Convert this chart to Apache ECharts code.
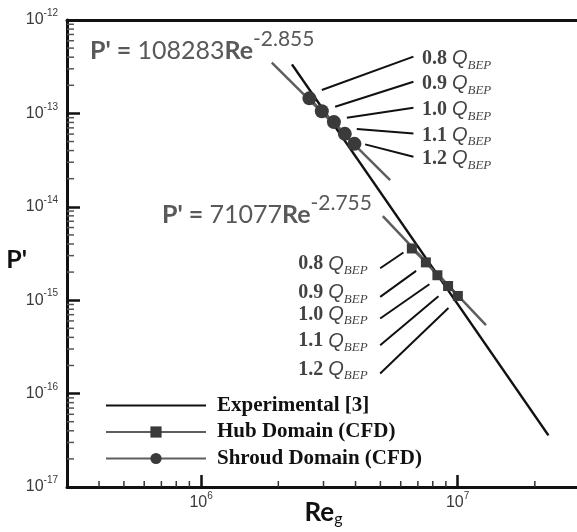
<!DOCTYPE html>
<html>
<head>
<meta charset="utf-8">
<script src="https://cdn.jsdelivr.net/npm/echarts@6/dist/echarts.min.js"></script>
<style>
html, body { margin: 0; padding: 0; background: #fff; }
#chart { width: 577px; height: 532px; }
</style>
</head>
<body>
<div id="chart"></div>
<script>
// axis ranges
var xMin = 3e5, xMax = 3e7;
var yMin = 1e-17, yMax = 1e-12;

// experimental correlation (straight line on log-log)
var expRe = [2.26e6, 2.26e7];
var expP = [3.35e-13, 3.57e-17];

// fitted lines
var hubFitRe = [5.11e6, 1.29e7];
var hubFitP = [7.94e-15, 5.40e-16];
var shroudFitRe = [1.886e6, 5.456e6];
var shroudFitP = [3.49e-13, 1.93e-14];

// CFD points, 0.8 .. 1.2 Q_BEP
var flowLabels = ['0.8', '0.9', '1.0', '1.1', '1.2'];
var hubRe = [6.63e6, 7.52e6, 8.34e6, 9.18e6, 1.002e7];
var hubP = [3.58e-15, 2.54e-15, 1.85e-15, 1.42e-15, 1.11e-15];
var shroudRe = [2.644e6, 2.955e6, 3.294e6, 3.633e6, 3.96e6];
var shroudP = [1.449e-13, 1.054e-13, 8.07e-14, 6.04e-14, 4.72e-14];

// leader lines for the Q labels: [Re1, P1, Re2, P2]
var shroudLeaders = [
    [2.955e6, 1.778e-13, 6.725e6, 4.05e-13],
    [3.33e6, 1.178e-13, 6.725e6, 2.18e-13],
    [3.70e6, 8.97e-14, 6.725e6, 1.148e-13],
    [4.046e6, 6.79e-14, 6.725e6, 6.11e-14],
    [4.36e6, 4.66e-14, 6.725e6, 3.43e-14]
];
var hubLeaders = [
    [4.99e6, 2.20e-15, 6.15e6, 3.24e-15],
    [4.99e6, 1.084e-15, 6.89e6, 2.06e-15],
    [4.99e6, 6.37e-16, 7.76e6, 1.48e-15],
    [4.99e6, 3.30e-16, 8.42e6, 1.10e-15],
    [4.99e6, 1.64e-16, 9.21e6, 8.26e-16]
];

var legendNames = ['Experimental [3]', 'Hub Domain (CFD)', 'Shroud Domain (CFD)'];

function zip(a, b) {
    var out = [];
    for (var i = 0; i < a.length; i++) {
        out.push([a[i], b[i]]);
    }
    return out;
}

// minor tick values 2..9 x 10^k inside a range
function minorTicks(lo, hi) {
    var out = [];
    var k0 = Math.floor(Math.log10(lo)), k1 = Math.ceil(Math.log10(hi));
    for (var k = k0; k <= k1; k++) {
        for (var m = 2; m <= 9; m++) {
            var v = m * Math.pow(10, k);
            if (v > lo * 1.0001 && v < hi * 0.9999) out.push(v);
        }
    }
    return out;
}

function powLabel(value) {
    var e = Math.log10(value);
    if (Math.abs(e - Math.round(e)) > 1e-6) return '';
    return '{b|10}{s|' + Math.round(e) + '}';
}

var tickRich = {
    b: { fontFamily: 'Liberation Sans', fontSize: 16, color: '#3a3a3a' },
    s: { fontFamily: 'Liberation Sans', fontSize: 10, color: '#3a3a3a', padding: [0, 0, 13, 0] }
};

var qRich = {
    n: { fontFamily: 'Liberation Serif', fontWeight: 'bold', fontSize: 20, color: '#111' },
    q: { fontFamily: 'Liberation Sans', fontStyle: 'italic', fontSize: 20, color: '#111' },
    s: { fontFamily: 'Liberation Sans Narrow', fontStyle: 'italic', fontSize: 13, color: '#111', padding: [13, 0, 0, 0] }
};

function qLabel(i) {
    return '{n|' + flowLabels[i] + ' }{q|Q}{s|BEP}';
}

var formulaRich = {
    b: { fontFamily: 'Lato', fontWeight: 'bold', fontSize: 25, fill: '#595959' },
    r: { fontFamily: 'Lato', fontSize: 25, fill: '#595959' },
    e: { fontFamily: 'Lato', fontSize: 21, fill: '#595959', padding: [0, 0, 24, 0] }
};

var chart = echarts.init(document.getElementById('chart'));

var option = {
    animation: false,
    backgroundColor: '#fff',
    grid: { left: 67, right: -3, top: 20, bottom: 45, outerBoundsMode: 'none', containLabel: false },
    legend: {
        data: [
            { name: legendNames[0], itemStyle: { opacity: 0 } },
            { name: legendNames[1] },
            { name: legendNames[2] }
        ],
        orient: 'vertical',
        left: 100,
        top: 390,
        itemWidth: 100,
        itemHeight: 14,
        itemGap: 5.5,
        textStyle: {
            fontFamily: 'Liberation Serif', fontWeight: 'bold', fontSize: 21, color: '#111',
            padding: [0, 0, 0, 6]
        }
    },
    xAxis: [{
        type: 'log', logBase: 10, min: xMin, max: xMax,
        name: '{b|Re}{s|g}',
        nameLocation: 'middle',
        nameGap: 12,
        nameMoveOverlap: false,
        nameTextStyle: {
            rich: {
                b: { fontFamily: 'Lato', fontWeight: 'bold', fontSize: 26, color: '#111' },
                s: { fontFamily: 'Lato', fontSize: 16, color: '#111', padding: [12, 0, 0, 0] }
            }
        },
        axisLine: { lineStyle: { color: '#111', width: 3 } },
        axisTick: { show: true, inside: true, length: 12, lineStyle: { color: '#111', width: 2.5 } },
        axisLabel: { formatter: powLabel, rich: tickRich, margin: 4, showMinLabel: false, showMaxLabel: false },
        splitLine: { show: false }
    }, {
        type: 'log', logBase: 10, min: xMin, max: xMax, position: 'top',
        axisLine: { lineStyle: { color: '#111', width: 3 } },
        axisTick: { show: false }, axisLabel: { show: false }, splitLine: { show: false }
    }],
    yAxis: {
        type: 'log', logBase: 10, min: yMin, max: yMax,
        name: "{p|P'}",
        nameLocation: 'middle',
        nameRotate: 0,
        nameGap: 40,
        nameMoveOverlap: false,
        nameTextStyle: {
            rich: { p: { fontFamily: 'Lato', fontWeight: 'bold', fontSize: 25, color: '#111', padding: [12, 0, 0, 0] } }
        },
        axisLine: { lineStyle: { color: '#111', width: 3 } },
        axisTick: { show: true, inside: true, length: 13, lineStyle: { color: '#111', width: 2.5 } },
        axisLabel: { formatter: powLabel, rich: tickRich, margin: 9 },
        splitLine: { show: false }
    },
    series: [{
        name: 'xMinor', type: 'custom', silent: true, z: 5, clip: false,
        data: minorTicks(xMin, xMax).map(function (v) { return [v, yMin]; }),
        renderItem: function (params, api) {
            var p = api.coord([api.value(0), yMin]);
            return { type: 'line', shape: { x1: p[0], y1: p[1], x2: p[0], y2: p[1] - 6 },
                style: { stroke: '#333', lineWidth: 1.5 } };
        }
    }, {
        name: 'yMinor', type: 'custom', silent: true, z: 5, clip: false,
        data: minorTicks(yMin, yMax).map(function (v) { return [xMin, v]; }),
        renderItem: function (params, api) {
            var p = api.coord([xMin, api.value(1)]);
            return { type: 'line', shape: { x1: p[0], y1: p[1], x2: p[0] + 7, y2: p[1] },
                style: { stroke: '#555', lineWidth: 1.5 } };
        }
    }, {
        name: 'leaders', type: 'custom', silent: true, z: 3,
        data: shroudLeaders.concat(hubLeaders),
        encode: { x: [0, 2], y: [1, 3] },
        renderItem: function (params, api) {
            var a = api.coord([api.value(0), api.value(1)]);
            var b = api.coord([api.value(2), api.value(3)]);
            return { type: 'line', shape: { x1: a[0], y1: a[1], x2: b[0], y2: b[1] },
                style: { stroke: '#111', lineWidth: 2 } };
        }
    }, {
        name: 'shroudFit', type: 'line', data: zip(shroudFitRe, shroudFitP), symbol: 'none', z: 2,
        lineStyle: { color: '#5e5e5e', width: 2.5 }
    }, {
        name: 'hubFit', type: 'line', data: zip(hubFitRe, hubFitP), symbol: 'none', z: 2,
        lineStyle: { color: '#5e5e5e', width: 2.5 }
    }, {
        name: 'Experimental [3]', type: 'line', data: zip(expRe, expP), symbol: 'none', z: 3,
        lineStyle: { color: '#111', width: 2.5 }, itemStyle: { color: '#111' }
    }, {
        name: 'Hub Domain (CFD)', type: 'line', data: zip(hubRe, hubP), z: 4,
        symbol: 'rect', symbolSize: 10, showAllSymbol: true,
        lineStyle: { color: '#5e5e5e', width: 2.5 }, itemStyle: { color: '#3a3a3a' }
    }, {
        name: 'Shroud Domain (CFD)', type: 'line', data: zip(shroudRe, shroudP), z: 4,
        symbol: 'circle', symbolSize: 14, showAllSymbol: true,
        lineStyle: { color: '#5e5e5e', width: 2.5 }, itemStyle: { color: '#3a3a3a' }
    }, {
        name: 'shroudLabels', type: 'scatter', silent: true, symbolSize: 1,
        itemStyle: { color: 'transparent' },
        data: shroudLeaders.map(function (r) { return [r[2], r[3]]; }),
        label: {
            show: true, position: 'right', distance: 8, offset: [0, 2],
            formatter: function (p) { return qLabel(p.dataIndex); }, rich: qRich
        }
    }, {
        name: 'hubLabels', type: 'scatter', silent: true, symbolSize: 1,
        itemStyle: { color: 'transparent' },
        data: hubLeaders.map(function (r) { return [r[0], r[1]]; }),
        label: {
            show: true, position: 'left', distance: 12, offset: [0, -4],
            formatter: function (p) { return qLabel(p.dataIndex); }, rich: qRich
        }
    }],
    graphic: [{
        type: 'text', x: 90, y: 51,
        style: { text: "{b|P' = }{r|108283}{b|Re}{e|-2.855}", rich: formulaRich, verticalAlign: 'middle' }
    }, {
        type: 'text', x: 162, y: 215,
        style: { text: "{b|P' = }{r|71077}{b|Re}{e|-2.755}", rich: formulaRich, verticalAlign: 'middle' }
    }]
};

chart.setOption(option);
</script>
</body>
</html>
